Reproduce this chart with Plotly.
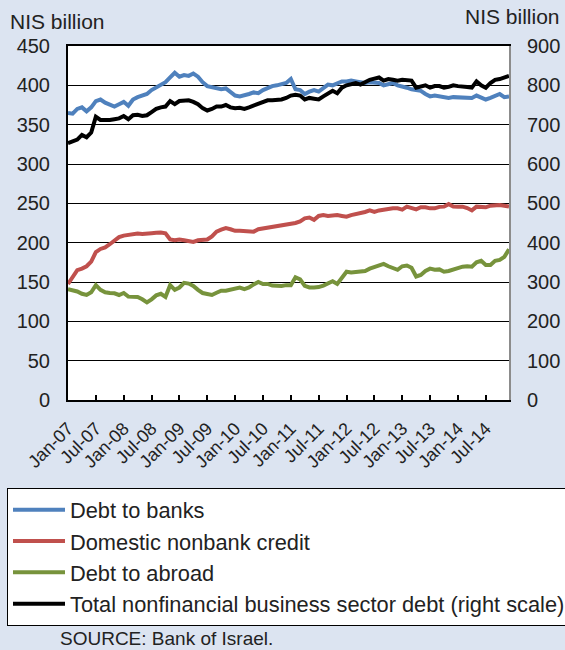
import plotly.graph_objects as go
import pandas as pd

months = [d.strftime("%b-%y") for d in pd.date_range("2007-01-01", "2014-12-01", freq="MS")]
tick_labels = ["Jan-07", "Jul-07", "Jan-08", "Jul-08", "Jan-09", "Jul-09", "Jan-10", "Jul-10",
               "Jan-11", "Jul-11", "Jan-12", "Jul-12", "Jan-13", "Jul-13", "Jan-14", "Jul-14"]

debt_to_banks = [365, 364, 370, 372, 367, 372, 380, 382, 378, 375, 373, 376, 379, 374, 382, 385,
                 387, 389, 394, 397, 400, 404, 410, 416, 411, 413, 412, 415, 411, 404, 399, 398,
                 397, 395, 396, 392, 387, 386, 387, 389, 391, 390, 394, 397, 399, 400, 401, 403,
                 408, 395, 394, 389, 392, 394, 392, 396, 401, 400, 403, 405, 405, 406, 405, 404,
                 403, 404, 404, 403, 400, 401, 403, 400, 399, 397, 395, 394, 393, 389, 386, 387,
                 386, 386, 384, 385, 385, 384, 384, 384, 387, 384, 382, 384, 386, 389, 385, 386]

domestic_nonbank = [147.5, 156, 165, 167, 170, 176, 188, 192, 194, 198, 202, 207, 209, 210, 210.5, 211.5,
                    211, 211, 212, 212.5, 213, 212, 204, 203, 204, 203, 202, 201, 203, 204, 204, 208,
                    214, 216.5, 218.5, 217, 215, 215, 215, 215, 214, 217, 218, 219, 220, 221, 221, 223,
                    224, 225, 227, 231, 232, 229, 234, 235, 234, 235, 235, 234, 233, 235, 236, 237,
                    239, 241, 239, 241, 242, 243, 243.6, 243.6, 242, 245.8, 244, 242.4, 245, 245, 243.6, 243.6,
                    245.5, 245.8, 249, 246, 245.8, 245.8, 244, 241, 245.8, 245, 245, 247, 248, 248, 247, 246]

debt_to_abroad = [141, 140, 138, 135, 133.5, 137, 146, 140, 137, 136, 135.6, 133.5, 136, 131.4, 131.4, 131,
                  128, 124, 128, 133, 135, 131, 146, 140, 143, 149, 148, 145, 140, 136, 134.7, 133.5,
                  136.4, 139, 139, 140, 141, 143, 141, 143, 147, 150, 147.5, 147.5, 145.5, 145, 145, 146,
                  146, 156, 153.4, 145, 143, 143, 143.5, 145.5, 148, 151, 147.5, 156, 163, 162,
                  162.5, 163, 164, 167, 169, 172, 173, 170, 168, 165.5, 170, 171, 168, 157, 159, 164,
                  167, 165.5, 166, 163, 164, 166, 168, 169.5, 170, 169.5, 175, 177, 171.6, 171.6, 177, 178, 182, 191.5]

total_debt = [653, 658, 662, 674, 668, 680, 720, 712, 711, 712, 714, 716, 722, 714, 724, 725,
              722, 724, 732, 740, 744, 746, 760, 752, 760, 762, 762, 758, 752, 742, 736, 740,
              746, 746, 750, 744, 742, 743, 740, 744, 748, 754, 758, 762, 762, 762, 764, 768,
              774, 776, 774, 764, 768, 766, 764, 772, 780, 786, 780, 794, 800, 802, 806, 802,
              808, 814, 817, 820, 812, 816, 814, 812, 814, 814, 812, 794, 798, 800, 794, 798,
              798, 794, 796, 800, 798, 798, 796, 794, 810, 800, 794, 806, 814, 816, 820, 824]

FONT = "Liberation Sans, Arial, sans-serif"
BG = "#dce4f1"
TXT = "#222222"

fig = go.Figure()
fig.add_trace(go.Scatter(x=months, y=debt_to_banks, name="Debt to banks", mode="lines",
                         line=dict(color="#4f81bd", width=4), legendgroup="a"))
fig.add_trace(go.Scatter(x=months, y=domestic_nonbank, name="Domestic nonbank credit", mode="lines",
                         line=dict(color="#c0504d", width=4), legendgroup="b"))
fig.add_trace(go.Scatter(x=months, y=debt_to_abroad, name="Debt to abroad", mode="lines",
                         line=dict(color="#77933c", width=4), legendgroup="c"))
fig.add_trace(go.Scatter(x=months, y=total_debt, name="Total nonfinancial business sector debt (right scale)",
                         mode="lines", line=dict(color="#000000", width=4), yaxis="y2", legendgroup="d"))

L, R, T, B = 68, 56, 46, 250
pw, ph = 565 - L - R, 650 - T - B

def px(x):
    return (x - L) / pw

def py(y):
    return (650 - B - y) / ph

fig.update_layout(
    width=565, height=650,
    margin=dict(l=L, r=R, t=T, b=B, autoexpand=False),
    paper_bgcolor=BG, plot_bgcolor="white",
    font=dict(family=FONT, size=20, color=TXT),
    showlegend=True,
    legend=dict(x=px(7), y=py(488), xanchor="left", yanchor="top",
                bgcolor="white", bordercolor="black", borderwidth=1,
                font=dict(family=FONT, size=21.8, color=TXT),
                tracegroupgap=11, itemwidth=52, traceorder="normal"),
    xaxis=dict(type="category", range=[0, len(months) - 1],
               tickmode="array", tickvals=tick_labels, ticktext=tick_labels,
               tickangle=-45, ticks="inside", ticklen=5, tickcolor="black", tickwidth=1.5,
               showline=True, linecolor="black", linewidth=2, mirror=True,
               ticklabelstandoff=9,
               showgrid=False, tickfont=dict(size=18, family=FONT, color=TXT)),
    yaxis=dict(range=[0, 450], dtick=50, tick0=0, showgrid=True, gridcolor="black", gridwidth=1.3,
               showline=True, linecolor="black", linewidth=2, ticks="", zeroline=False,
               ticklabelstandoff=12, tickfont=dict(size=20, family=FONT, color=TXT)),
    yaxis2=dict(range=[0, 900], dtick=100, tick0=0, overlaying="y", side="right",
                showgrid=False, showline=True, linecolor="#8c8c8c", linewidth=2, ticks="",
                zeroline=False, ticklabelstandoff=12, tickfont=dict(size=20, family=FONT, color=TXT)),
    annotations=[
        dict(text="NIS billion", x=px(8), y=py(22), xref="paper", yref="paper",
             xanchor="left", yanchor="middle", showarrow=False, font=dict(size=21, family=FONT, color=TXT)),
        dict(text="NIS billion", x=px(562), y=py(17), xref="paper", yref="paper",
             xanchor="right", yanchor="middle", showarrow=False, font=dict(size=21, family=FONT, color=TXT)),
        dict(text="SOURCE: Bank of Israel.", x=px(58), y=py(638), xref="paper", yref="paper",
             xanchor="left", yanchor="middle", showarrow=False, font=dict(size=19, family=FONT, color=TXT)),
    ],
)

fig.write_html("out.html", config={"displayModeBar": False},
               post_script="document.body.style.margin='0';document.body.style.padding='0';")
